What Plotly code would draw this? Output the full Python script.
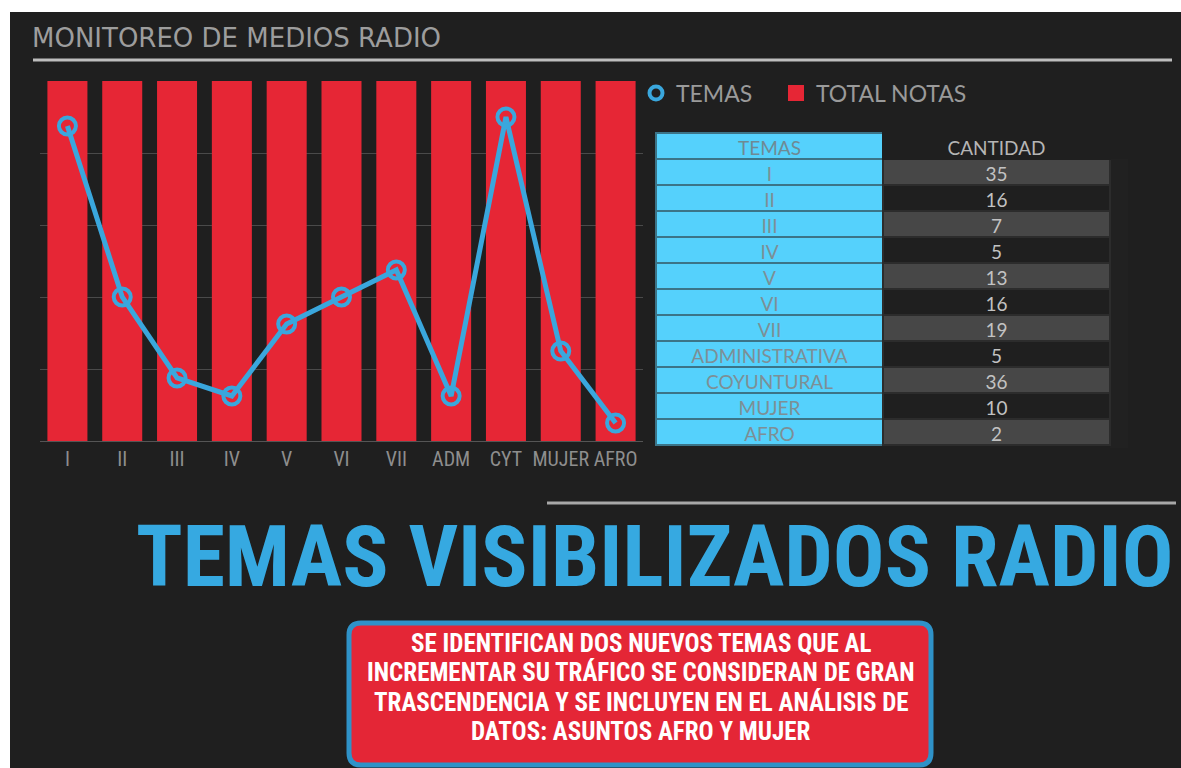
import plotly.graph_objects as go

W, H = 1181, 768
OFF = 0  # body margin removed via post_script

categories = ["I", "II", "III", "IV", "V", "VI", "VII", "ADM", "CYT", "MUJER", "AFRO"]
temas_values = [35, 16, 7, 5, 13, 16, 19, 5, 36, 10, 2]
total_notas = [40, 40, 40, 40, 40, 40, 40, 40, 40, 40, 40]

table_temas = ["I", "II", "III", "IV", "V", "VI", "VII", "ADMINISTRATIVA",
               "COYUNTURAL", "MUJER", "AFRO"]
table_cantidad = [35, 16, 7, 5, 13, 16, 19, 5, 36, 10, 2]

y_ticks = [0, 8, 16, 24, 32, 40]

box_lines = [
    "SE IDENTIFICAN DOS NUEVOS TEMAS QUE AL",
    "INCREMENTAR SU TRÁFICO SE CONSIDERAN DE GRAN",
    "TRASCENDENCIA Y SE INCLUYEN EN EL ANÁLISIS DE",
    "DATOS: ASUNTOS AFRO Y MUJER",
]

BG = "#1f1f1f"
RED = "#e62635"
BLUE = "#3aa7dd"
CYAN = "#55d1fc"
GRAY_TXT = "#9a9a9a"
COND = "Roboto Condensed, Liberation Sans Narrow, Roboto, sans-serif"


def px(x):
    return (x - OFF) / W


def py(y):
    return 1 - (y - OFF) / H


fig = go.Figure()

fig.add_trace(go.Bar(
    x=categories, y=total_notas, name="TOTAL NOTAS",
    marker=dict(color=RED, line=dict(width=0)),
    showlegend=False,
))
fig.add_trace(go.Scatter(
    x=categories, y=temas_values, name="TEMAS", mode="lines+markers",
    line=dict(color=BLUE, width=5),
    marker=dict(symbol="circle-open", size=17, color=BLUE, line=dict(width=4, color=BLUE)),
    showlegend=False,
))
# legend entries
fig.add_trace(go.Scatter(
    x=[None], y=[None], name="TEMAS", mode="markers",
    marker=dict(symbol="circle-open", size=13, color=BLUE, line=dict(width=4, color=BLUE)),
    showlegend=True, legend="legend",
))
fig.add_trace(go.Scatter(
    x=[None], y=[None], name="TOTAL NOTAS", mode="markers",
    marker=dict(symbol="square", size=20, color=RED, line=dict(width=0)),
    showlegend=True, legend="legend2",
))

n = len(table_temas)
val_fill = ["#474747" if i % 2 == 0 else BG for i in range(n)]
fig.add_trace(go.Table(
    domain=dict(x=[px(656), px(1110)], y=[py(449), py(133)]),
    columnwidth=[1, 1],
    header=dict(
        values=["TEMAS", "CANTIDAD"],
        fill=dict(color=[CYAN, BG]),
        line=dict(color=[["#3b7488"], [BG]], width=2),
        font=dict(family="Lato, sans-serif", size=19, color=["#6f8a94", "#b5b5b5"]),
        align="center", height=26,
    ),
    cells=dict(
        values=[table_temas, table_cantidad],
        fill=dict(color=[[CYAN] * n, val_fill]),
        line=dict(color=[["#3b7488"] * n, ["#2c2c2c"] * n], width=2),
        font=dict(family="Lato, sans-serif", size=19, color=[["#7d8f96"] * n, ["#c2c2c2"] * n]),
        align="center", height=26,
    ),
))

shapes = [
    dict(type="rect", xref="paper", yref="paper", x0=0, x1=px(10), y0=0, y1=1,
         fillcolor="white", line=dict(width=0), layer="below"),
    dict(type="rect", xref="paper", yref="paper", x0=0, x1=1, y0=py(12), y1=1,
         fillcolor="white", line=dict(width=0), layer="below"),
    dict(type="line", xref="paper", yref="paper", x0=px(33), x1=px(1172), y0=py(60), y1=py(60),
         line=dict(color="#bdbdbd", width=3)),
    dict(type="line", xref="paper", yref="paper", x0=px(547), x1=px(1176), y0=py(503), y1=py(503),
         line=dict(color="#a8a8a8", width=3)),
]

bx0, bx1, by0, by1, r = 349, 931, 623, 765, 12
path = (f"M {px(bx0 + r)},{py(by0)} L {px(bx1 - r)},{py(by0)} "
        f"Q {px(bx1)},{py(by0)} {px(bx1)},{py(by0 + r)} "
        f"L {px(bx1)},{py(by1 - r)} Q {px(bx1)},{py(by1)} {px(bx1 - r)},{py(by1)} "
        f"L {px(bx0 + r)},{py(by1)} Q {px(bx0)},{py(by1)} {px(bx0)},{py(by1 - r)} "
        f"L {px(bx0)},{py(by0 + r)} Q {px(bx0)},{py(by0)} {px(bx0 + r)},{py(by0)} Z")
shapes.append(dict(type="path", xref="paper", yref="paper", path=path,
                   fillcolor="#e42636", line=dict(color="#2f92c8", width=5)))

annotations = [
    dict(text="MONITOREO DE MEDIOS RADIO", xref="paper", yref="paper",
         x=px(30), y=py(38), xanchor="left", yanchor="middle", showarrow=False,
         font=dict(family="DejaVu Sans, sans-serif", size=26, color="#9d9d9d")),
    dict(text="<b>TEMAS VISIBILIZADOS RADIO</b>", xref="paper", yref="paper",
         x=px(1176), y=py(556), xanchor="right", yanchor="middle", showarrow=False,
         font=dict(family=COND, size=86, color="#36a9e1")),
]
for line_text, ly in zip(box_lines, [643, 672, 702, 731]):
    annotations.append(dict(
        text=f"<b>{line_text}</b>", xref="paper", yref="paper", x=px(641), y=py(ly),
        xanchor="center", yanchor="middle", showarrow=False,
        font=dict(family=COND, size=25, color="white")))

legend_common = dict(orientation="h", yanchor="middle", xanchor="left",
                     bgcolor="rgba(0,0,0,0)",
                     font=dict(family="Lato, sans-serif", size=23, color=GRAY_TXT),
                     itemwidth=30)

fig.update_layout(
    width=W, height=H,
    margin=dict(l=0, r=0, t=0, b=0),
    paper_bgcolor=BG, plot_bgcolor="rgba(0,0,0,0)",
    bargap=0.27,
    shapes=shapes, annotations=annotations,
    legend=dict(x=px(636), y=py(93), **legend_common),
    legend2=dict(x=px(776), y=py(93), **legend_common),
    xaxis=dict(domain=[px(40), px(643)], range=[-0.5, 10.5], showgrid=False, showline=True,
               linecolor="#555555", linewidth=1, ticks="", tickangle=0,
               tickfont=dict(family=COND, size=20, color="#8e8e8e"), fixedrange=True),
    yaxis=dict(domain=[py(441), py(81)], range=[0, 40], tickvals=y_ticks, showticklabels=False,
               showgrid=True, gridcolor="#4a4a4a", gridwidth=1, zeroline=False, fixedrange=True),
)

fig.write_html("out.html", config={"displayModeBar": False},
               post_script="document.body.style.margin='0';")
